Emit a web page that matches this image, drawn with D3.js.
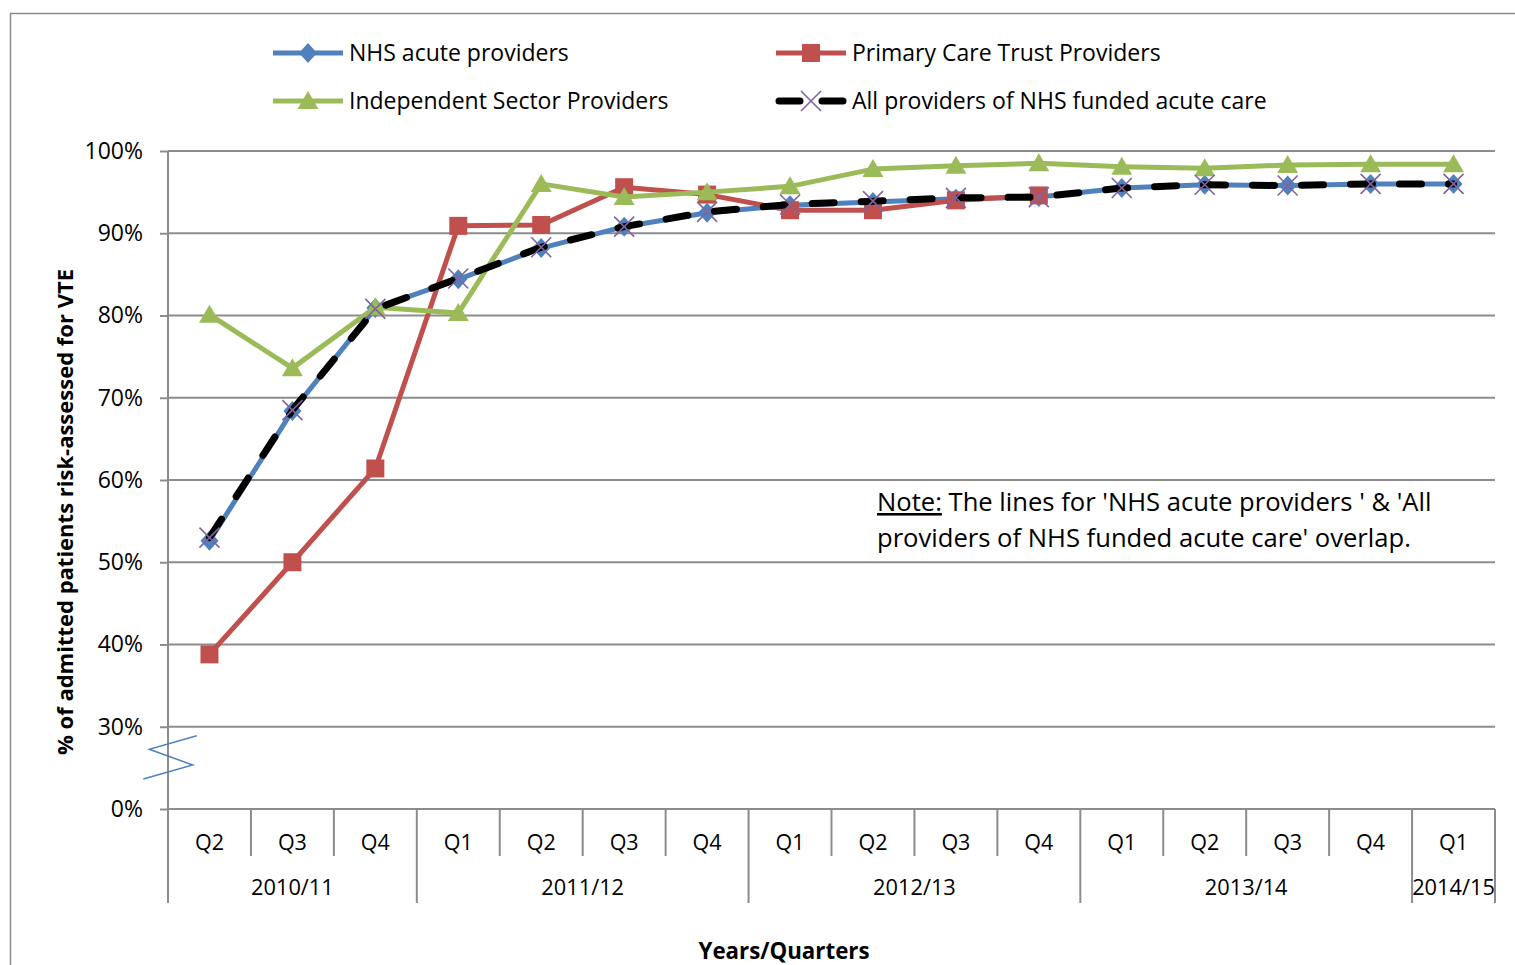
<!DOCTYPE html>
<html>
<head>
<meta charset="utf-8">
<script src="https://cdn.jsdelivr.net/npm/d3@7"></script>
<style>
  body { margin: 0; background: #fff; }
  text { font-family: "Open Sans", sans-serif; fill: #000; }
</style>
</head>
<body>
<div id="chart"></div>
<script>
// Data
var quarters = ["Q2", "Q3", "Q4", "Q1", "Q2", "Q3", "Q4", "Q1", "Q2", "Q3", "Q4", "Q1", "Q2", "Q3", "Q4", "Q1"];
var yearLabels = ["2010/11", "2011/12", "2012/13", "2013/14", "2014/15"];
var quartersPerYear = [3, 4, 4, 4, 1];
var nhsAcute = [52.6, 68.4, 80.9, 84.4, 88.2, 90.8, 92.5, 93.4, 93.8, 94.2, 94.4, 95.5, 95.9, 95.8, 96.0, 96.0];
var primaryCare = [38.8, 50.0, 61.4, 90.9, 91.0, 95.6, 94.7, 92.8, 92.8, 94.0, 94.6, null, null, null, null, null];
var independent = [80.1, 73.6, 81.0, 80.3, 96.0, 94.4, 95.0, 95.7, 97.8, 98.2, 98.5, 98.1, 97.9, 98.3, 98.4, 98.4];
var allProviders = [53.0, 68.5, 80.8, 84.5, 88.3, 90.8, 92.6, 93.5, 93.9, 94.3, 94.4, 95.5, 95.9, 95.8, 96.0, 96.0];
var yTicks = [20, 30, 40, 50, 60, 70, 80, 90, 100];

// Variables
var width = 1515;
var height = 965;
var plotLeft = 168, plotRight = 1495, plotTop = 151, plotBottom = 809;
var gridColor = "#8c8c8c";

var svg = d3.select("#chart").append("svg")
    .attr("width", width)
    .attr("height", height);

// outer chart border
svg.append("rect")
    .attr("x", 10.5).attr("y", 13.5)
    .attr("width", 1600).attr("height", 1000)
    .attr("fill", "none").attr("stroke", "#8c8c8c").attr("stroke-width", 1.5);

var x = d3.scaleBand()
    .domain(d3.range(quarters.length))
    .range([plotLeft, plotRight]);

// broken axis: the bottom position shows 0%
var y = d3.scaleLinear()
    .domain([20, 100])
    .range([plotBottom, plotTop]);

// gridlines
svg.append("g").selectAll("line")
    .data(yTicks.slice(1))
    .enter().append("line")
    .attr("x1", plotLeft).attr("x2", plotRight)
    .attr("y1", function (d) { return y(d); })
    .attr("y2", function (d) { return y(d); })
    .attr("stroke", gridColor).attr("stroke-width", 2);

// y axis
var yAxis = svg.append("g")
    .attr("transform", "translate(" + plotLeft + ",0)")
    .call(d3.axisLeft(y).tickValues(yTicks).tickSize(8).tickPadding(17)
        .tickFormat(function (d) { return (d === 20 ? 0 : d) + "%"; }));
yAxis.select(".domain").remove();
yAxis.selectAll(".tick line").attr("stroke", gridColor).attr("stroke-width", 2);
yAxis.selectAll(".tick text")
    .style("font-size", "23px")
    .style("font-family", "Open Sans, sans-serif");

svg.append("line")
    .attr("x1", plotLeft).attr("x2", plotLeft)
    .attr("y1", plotTop).attr("y2", 903)
    .attr("stroke", gridColor).attr("stroke-width", 2);

// break symbol
svg.append("path")
    .attr("d", "M196.7,735.7L149.3,749.3L192.7,765L143.3,779")
    .attr("fill", "none").attr("stroke", "#4f81bd").attr("stroke-width", 1.5);

// x axis, two-level categories
svg.append("line")
    .attr("x1", plotLeft).attr("x2", plotRight)
    .attr("y1", plotBottom).attr("y2", plotBottom)
    .attr("stroke", gridColor).attr("stroke-width", 2);

var yearEnds = d3.cumsum(quartersPerYear);
var bounds = d3.range(quarters.length + 1);
svg.append("g").selectAll("line")
    .data(bounds)
    .enter().append("line")
    .attr("x1", function (d) { return d === quarters.length ? plotRight : x(d); })
    .attr("x2", function (d) { return d === quarters.length ? plotRight : x(d); })
    .attr("y1", plotBottom)
    .attr("y2", function (d) { return (d === 0 || yearEnds.indexOf(d) >= 0) ? 903 : 856; })
    .attr("stroke", gridColor).attr("stroke-width", 2);

svg.append("g").selectAll("text")
    .data(quarters)
    .enter().append("text")
    .attr("x", function (d, i) { return x(i) + x.bandwidth() / 2; })
    .attr("y", 850)
    .attr("text-anchor", "middle")
    .style("font-size", "21.5px")
    .text(function (d) { return d; });

svg.append("g").selectAll("text")
    .data(yearLabels)
    .enter().append("text")
    .attr("x", function (d, i) {
        var s = i === 0 ? 0 : yearEnds[i - 1];
        var e = yearEnds[i];
        return (x(s) + (e === quarters.length ? plotRight : x(e))) / 2;
    })
    .attr("y", 895)
    .attr("text-anchor", "middle")
    .style("font-size", "21.8px")
    .text(function (d) { return d; });

// axis titles
svg.append("text")
    .attr("transform", "translate(73,512) rotate(-90)")
    .attr("text-anchor", "middle")
    .style("font-size", "22px").style("font-weight", "bold")
    .text("% of admitted patients risk-assessed for VTE");

svg.append("text")
    .attr("x", 784).attr("y", 959)
    .attr("text-anchor", "middle")
    .style("font-size", "22.3px").style("font-weight", "bold")
    .text("Years/Quarters");

// series
var cx = function (i) { return x(i) + x.bandwidth() / 2; };
var line = d3.line()
    .defined(function (d) { return d != null; })
    .x(function (d, i) { return cx(i); })
    .y(function (d) { return y(d); });

var diamond = "M0,-10L9,0L0,10L-9,0Z";
var square = "M-9,-9H9V9H-9Z";
var triangle = "M0,-10L10.5,8H-10.5Z";
var cross = "M-10,-10L10,10M10,-10L-10,10";

var series = [
    {name: "NHS acute providers", values: nhsAcute, color: "#4f81bd", marker: diamond, dash: null, mcolor: "#4f81bd"},
    {name: "Primary Care Trust Providers", values: primaryCare, color: "#c0504d", marker: square, dash: null, mcolor: "#c0504d"},
    {name: "Independent Sector Providers", values: independent, color: "#9bbb59", marker: triangle, dash: null, mcolor: "#9bbb59"},
    {name: "All providers of NHS funded acute care", values: allProviders, color: "#000", marker: cross, dash: "22,27", mcolor: "#8064a2"}
];

function drawMarker(g, s, px, py) {
    var m = g.append("path")
        .attr("transform", "translate(" + px + "," + py + ")")
        .attr("d", s.marker);
    if (s.marker === cross) {
        m.attr("fill", "none").attr("stroke", s.mcolor).attr("stroke-width", 1.6);
    } else {
        m.attr("fill", s.mcolor);
    }
}

series.forEach(function (s) {
    var g = svg.append("g");
    g.append("path")
        .attr("d", line(s.values))
        .attr("fill", "none")
        .attr("stroke", s.color)
        .attr("stroke-width", s.dash ? 7 : 5)
        .attr("stroke-linecap", s.dash ? "round" : "butt")
        .attr("stroke-linejoin", "round")
        .attr("stroke-dasharray", s.dash);
    s.values.forEach(function (v, i) {
        if (v != null) drawMarker(g, s, cx(i), y(v));
    });
});

// legend
var legendPos = [[273, 53], [776, 53], [273, 101], [776, 101]];
series.forEach(function (s, i) {
    var lx = legendPos[i][0], ly = legendPos[i][1];
    var g = svg.append("g");
    if (s.dash) {
        g.append("line").attr("x1", lx + 3).attr("x2", lx + 24).attr("y1", ly).attr("y2", ly)
            .attr("stroke", s.color).attr("stroke-width", 7).attr("stroke-linecap", "round");
        g.append("line").attr("x1", lx + 46).attr("x2", lx + 67).attr("y1", ly).attr("y2", ly)
            .attr("stroke", s.color).attr("stroke-width", 7).attr("stroke-linecap", "round");
    } else {
        g.append("line").attr("x1", lx).attr("x2", lx + 70).attr("y1", ly).attr("y2", ly)
            .attr("stroke", s.color).attr("stroke-width", 5);
    }
    drawMarker(g, s, lx + 35, ly);
    g.append("text")
        .attr("x", lx + 76).attr("y", ly + 8)
        .style("font-size", "23px")
        .text(s.name);
});

// note
var note = svg.append("text").attr("x", 877).attr("y", 511).style("font-size", "25.6px");
note.append("tspan").attr("text-decoration", "underline").text("Note:");
note.append("tspan").text(" The lines for 'NHS acute providers ' & 'All");
svg.append("text").attr("x", 877).attr("y", 547).style("font-size", "25.6px")
    .text("providers of NHS funded acute care' overlap.");
</script>
</body>
</html>
